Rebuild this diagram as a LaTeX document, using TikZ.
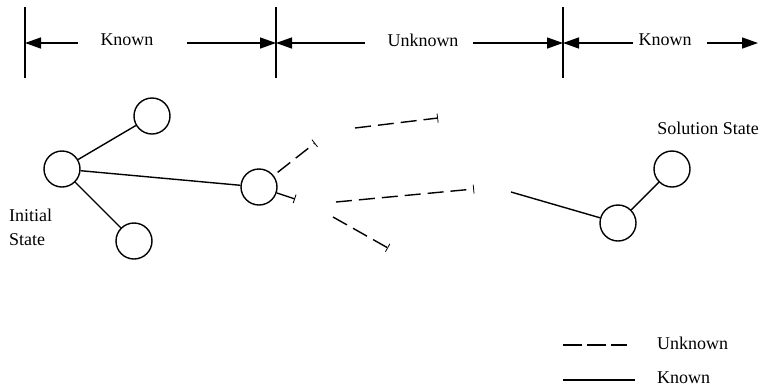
\documentclass[tikz,border=0pt]{standalone}
\usepackage{fontspec}
\setmainfont{Liberation Serif}
\usetikzlibrary{arrows.meta}
\begin{document}
\begin{tikzpicture}[x=1pt,y=-1pt,
  state/.style={draw,circle,line width=1.4pt,minimum size=36pt,inner sep=0pt},
  known/.style={line width=1.4pt},
  unknown/.style={line width=1.4pt,dash pattern=on 16pt off 7pt},
  endtick/.style={-{Bar[width=9pt,line width=0.8pt]}},
  bar/.style={line width=1.4pt},
  dim/.style={line width=1.4pt,-{Triangle[length=16pt,width=11pt]}},
  lbl/.style={font=\fontsize{18}{24}\selectfont,inner sep=0pt}]
\useasboundingbox (0,0) rectangle (760,389);
% top dimension bars
\coordinate (b1t) at (25,7);   \coordinate (b1b) at (25,78);
\coordinate (b2t) at (276,7);  \coordinate (b2b) at (276,78);
\coordinate (b3t) at (563,7);  \coordinate (b3b) at (563,78);
\draw[bar] (b1t) -- (b1b);
\draw[bar] (b2t) -- (b2b);
\draw[bar] (b3t) -- (b3b);
\coordinate (a1s) at (78,43);  \coordinate (a1e) at (25,43);
\coordinate (a2s) at (187,43); \coordinate (a2e) at (276,43);
\coordinate (a3s) at (365,43); \coordinate (a3e) at (276,43);
\coordinate (a4s) at (473,43); \coordinate (a4e) at (563,43);
\coordinate (a5s) at (633,43); \coordinate (a5e) at (563,43);
\coordinate (a6s) at (707,43); \coordinate (a6e) at (758,43);
\draw[dim] (a1s) -- (a1e);
\draw[dim] (a2s) -- (a2e);
\draw[dim] (a3s) -- (a3e);
\draw[dim] (a4s) -- (a4e);
\draw[dim] (a5s) -- (a5e);
\draw[dim] (a6s) -- (a6e);
\node[lbl] (k1) at (127,40) {Known};
\node[lbl] (u1) at (423,40) {Unknown};
\node[lbl] (k2) at (665,40) {Known};
% states
\node[state] (init) at (62,169) {};
\node[state] (top) at (152,116) {};
\node[state] (bot) at (134,241) {};
\node[state] (mid) at (259,187) {};
\node[state] (sol) at (672,169) {};
\node[state] (pre) at (618,223) {};
\draw[known] (init) -- (top);
\draw[known] (init) -- (bot);
\draw[known] (init) -- (mid);
\draw[known] (pre) -- (sol);
\coordinate (s1) at (295,199);
\draw[known,endtick] (mid) -- (s1);
\coordinate (d1) at (315,143);
\draw[unknown,endtick,shorten <=5pt] (mid) -- (d1);
\coordinate (d2s) at (355,128); \coordinate (d2e) at (438,118);
\draw[unknown,endtick] (d2s) -- (d2e);
\coordinate (d3s) at (336,202); \coordinate (d3e) at (474,189);
\draw[unknown,endtick] (d3s) -- (d3e);
\coordinate (d4s) at (333,217); \coordinate (d4e) at (388,248);
\draw[unknown,endtick] (d4s) -- (d4e);
\coordinate (k3) at (511,192);
\draw[known] (k3) -- (pre);
% labels
\node[lbl,anchor=base west] (il) at (9,221) {Initial};
\node[lbl,anchor=base west] (sl) at (9,245) {State};
\node[lbl] (ss) at (708,128) {Solution State};
% legend
\coordinate (l1s) at (563,345); \coordinate (l1e) at (627,345);
\coordinate (l2s) at (563,380); \coordinate (l2e) at (635,380);
\draw[line width=1.4pt,dash pattern=on 19pt off 5pt] (l1s) -- (l1e);
\draw[known] (l2s) -- (l2e);
\node[lbl,anchor=west] (lu) at (657,343) {Unknown};
\node[lbl,anchor=west] (lk) at (657,378) {Known};
\end{tikzpicture}
\end{document}
